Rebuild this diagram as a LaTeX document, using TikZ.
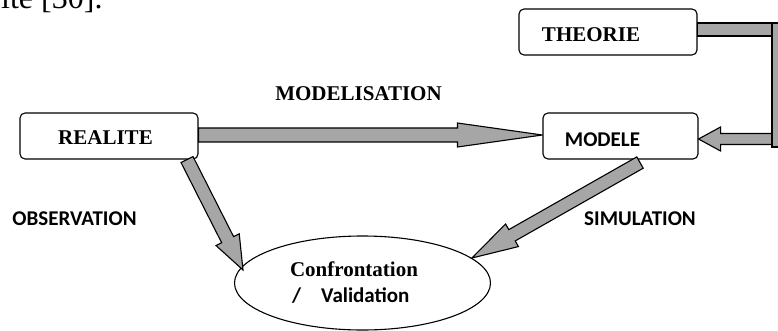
\documentclass[tikz,border=0pt]{standalone}
\usepackage{fontspec}
\setmainfont{Liberation Serif}
\newfontfamily\carl{Carlito}
\usetikzlibrary{shapes.geometric,calc}
\definecolor{arrowgray}{RGB}{166,166,166}
\newcommand\blockarrow[5]{%
  \path ($(#2)!#4!(#1)$) coordinate (ba-h);
  \draw[blk] ($(#1)!#3!90:(#2)$) -- ($(ba-h)!#3!90:(#2)$) -- ($(ba-h)!#5!90:(#2)$) -- (#2)
    -- ($(ba-h)!#5!-90:(#2)$) -- ($(ba-h)!#3!-90:(#2)$) -- ($(#1)!#3!-90:(#2)$) -- cycle;}
\begin{document}
\begin{tikzpicture}[x=1pt,y=-1pt,
  box/.style={draw, rounded corners=5pt, line width=1.1pt, minimum width=178pt, minimum height=46pt, inner sep=0pt},
  tser/.style={font=\fontsize{21}{24}\selectfont\bfseries, anchor=base, inner sep=0pt},
  tcal/.style={font=\carl\fontsize{21}{24}\selectfont\bfseries, anchor=base, inner sep=0pt},
  blk/.style={fill=arrowgray, draw=black, line width=1.1pt, line join=miter, miter limit=4}]
\useasboundingbox (0,0) rectangle (778,331);
\clip (0,0) rectangle (778,331);
% clipped text of the surrounding page
\node[font=\fontsize{32}{36}\selectfont, anchor=base west, inner sep=0pt] (pagetxt) at (1,8.5) {ite [30].};
% boxes
\node[box] (realite) at (109,136) {};
\node[box] (theorie) at (608,32) {};
\node[box, minimum width=155pt] (modele) at (620.5,136) {};
\node[draw, ellipse, line width=1.1pt, minimum width=256pt, minimum height=94pt, inner sep=0pt] (conf) at (362.5,283) {};
% box texts
\node[tser] (realite-t) at (105.5,145) {REALITE};
\node[tser] (theorie-t) at (591,41.5) {THEORIE};
\node[tcal] (modele-t) at (602.5,146.5) {MODELE};
\node[tser] (conf-t1) at (354,276) {Confrontation};
\node[tcal, anchor=base west] (conf-t2) at (292,302) {/\hspace{20pt}Validation};
% labels
\node[tser] (modelisation) at (358.5,100.5) {MODELISATION};
\node[tcal] (observation) at (74.5,225) {OBSERVATION};
\node[tcal] (simulation) at (640,225) {SIMULATION};
% connectors
\coordinate (m1) at ($(realite.east)+(0,-1)$);
\coordinate (m2) at ($(modele.west)+(0,-1)$);
\blockarrow{m1}{m2}{7pt}{85pt}{12pt}
\coordinate (o1) at ($(realite.south)+(78,0)$);
\coordinate (o2) at ($(conf.center)+(-119.5,-13)$);
\blockarrow{o1}{o2}{6.7pt}{34pt}{13pt}
\coordinate (s1) at ($(modele.south)+(19.5,3)$);
\coordinate (s2) at ($(conf.center)+(109.5,-25)$);
\blockarrow{s1}{s2}{6.5pt}{46pt}{13pt}
\coordinate (tb) at (776,139);
\coordinate (tt) at ($(modele.east)+(0,3)$);
\blockarrow{tb}{tt}{5.5pt}{22pt}{12pt}
\draw[blk] ($(theorie.east)+(0,-9)$) rectangle (772,36);
\draw[blk] (772,23) rectangle (786,147);
\end{tikzpicture}
\end{document}
